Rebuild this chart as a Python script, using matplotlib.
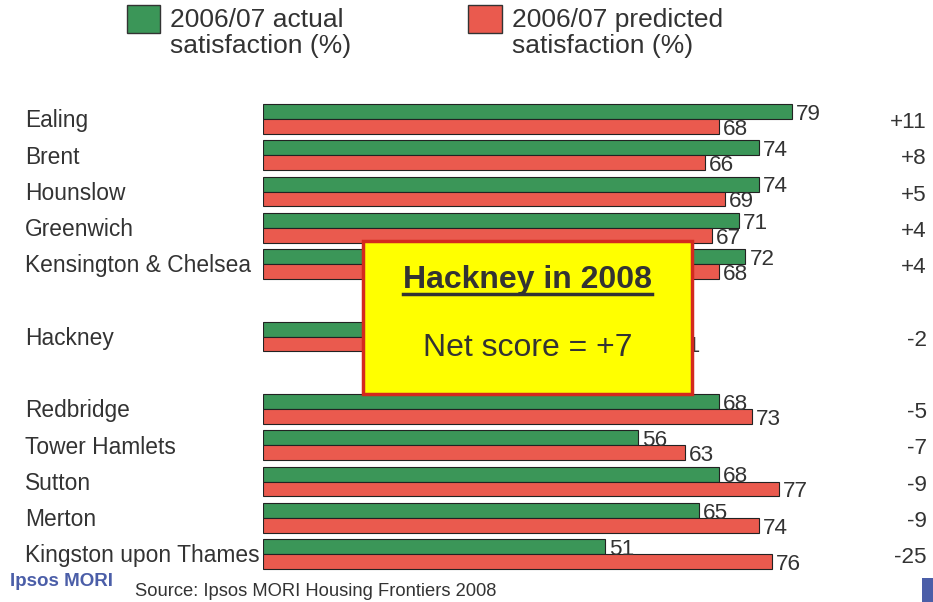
import matplotlib.pyplot as plt
from matplotlib.patches import Rectangle
from matplotlib.lines import Line2D

plt.rcParams['font.family'] = ['Liberation Sans', 'DejaVu Sans']

# data
boroughs = ["Ealing", "Brent", "Hounslow", "Greenwich", "Kensington & Chelsea",
            "Hackney", "Redbridge", "Tower Hamlets", "Sutton", "Merton",
            "Kingston upon Thames"]
positions = [0, 1, 2, 3, 4, 6, 8, 9, 10, 11, 12]
actual = [79, 74, 74, 71, 72, 59, 68, 56, 68, 65, 51]
predicted = [68, 66, 69, 67, 68, 61, 73, 63, 77, 74, 76]
net = ["+11", "+8", "+5", "+4", "+4", "-2", "-5", "-7", "-9", "-9", "-25"]

green = "#3b9658"
red = "#ea5a4e"
txt = "#333333"
blue = "#4b5ea8"

fig = plt.figure(figsize=(9.33, 6.02), dpi=100)
ax = fig.add_axes([263 / 933, 1 - 575.75 / 602, 670 / 933, 478.5 / 602])
ax.set_xlim(0, 100)
ax.set_ylim(12.6, -0.6)
ax.axis("off")

h = 0.41
ya = [p - h / 2 for p in positions]
yp = [p + h / 2 for p in positions]
ax.barh(ya, actual, height=h, color=green, edgecolor="#222222", linewidth=0.8, zorder=2)
ax.barh(yp, predicted, height=h, color=red, edgecolor="#222222", linewidth=0.8, zorder=2)

for i, name in enumerate(boroughs):
    ax.text(-35.5, positions[i] + 0.05, name, ha="left", va="center", fontsize=16.4, color=txt)
    ax.text(actual[i] + 0.6, ya[i] + 0.08, str(actual[i]), ha="left", va="center", fontsize=16.2, color=txt)
    ax.text(predicted[i] + 0.6, yp[i] + 0.08, str(predicted[i]), ha="left", va="center", fontsize=16.2, color=txt)
    ax.text(99.1, positions[i] + 0.1, net[i], ha="right", va="center", fontsize=16.2, color=txt)

# Hackney call-out box
ax.add_patch(Rectangle((14.9, 3.37), 49.2, 4.22, facecolor="#ffff00", edgecolor="#d42a1e",
                       linewidth=2.5, zorder=5))
title = ax.text(39.5, 4.44, "Hackney in 2008", ha="center", va="center", fontsize=23,
                fontweight="bold", color=txt, zorder=6)
ax.text(39.5, 6.31, "Net score = +7", ha="center", va="center", fontsize=23, color=txt, zorder=6)

# legend
fig.add_artist(Rectangle((127 / 933, 1 - 33 / 602), 33 / 933, 28 / 602, transform=fig.transFigure,
                         facecolor=green, edgecolor="#333333", linewidth=1))
fig.add_artist(Rectangle((468 / 933, 1 - 33 / 602), 34 / 933, 28 / 602, transform=fig.transFigure,
                         facecolor=red, edgecolor="#333333", linewidth=1))
fig.text(170 / 933, 1 - 8 / 602, "2006/07 actual\nsatisfaction (%)", ha="left", va="top",
         fontsize=19, color=txt, linespacing=1.13)
fig.text(512 / 933, 1 - 8 / 602, "2006/07 predicted\nsatisfaction (%)", ha="left", va="top",
         fontsize=19, color=txt, linespacing=1.13)

# footer
fig.text(10 / 933, 1 - 581 / 602, "Ipsos MORI", ha="left", va="center", fontsize=13.5,
         fontweight="bold", color=blue)
fig.text(135 / 933, 1 - 591 / 602, "Source: Ipsos MORI Housing Frontiers 2008", ha="left",
         va="center", fontsize=13.2, color=txt)
fig.add_artist(Rectangle((922 / 933, 0), 11 / 933, 24 / 602, transform=fig.transFigure,
                         facecolor=blue, edgecolor="none"))

# underline the box title
fig.canvas.draw()
bb = title.get_window_extent()
fig.add_artist(Line2D([bb.x0 / 933, bb.x1 / 933], [(bb.y0 + 1) / 602, (bb.y0 + 1) / 602],
                      transform=fig.transFigure, color=txt, linewidth=2.5, zorder=7))

fig.savefig("out.png", dpi=100)
